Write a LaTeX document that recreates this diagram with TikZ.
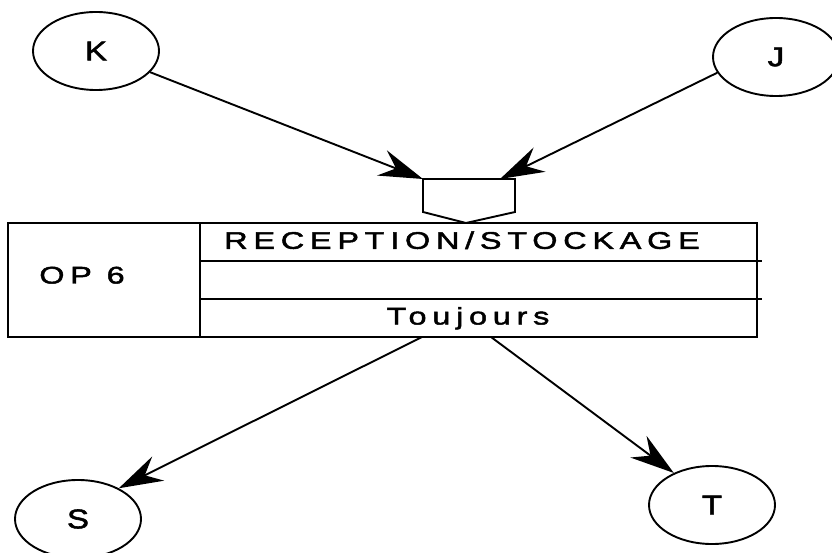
\documentclass[tikz,border=0pt]{standalone}
\usepackage{fontspec}
\setmainfont{Liberation Sans}
\newfontfamily\lblfont{Liberation Sans}[FakeStretch=1.35,LetterSpace=24,FakeBold=2]
\newfontfamily\circfont{Liberation Sans}[FakeStretch=1.22,FakeBold=2]
\usetikzlibrary{shapes.geometric,arrows.meta}
\begin{document}
\begin{tikzpicture}[x=1pt,y=-1pt,
  ent/.style={ellipse,draw,line width=1.9pt,minimum width=126pt,minimum height=78pt,inner sep=0pt,font=\circfont\fontsize{27}{27}\selectfont},
  arr/.style={line width=1.9pt,-{Stealth[length=44pt,width=27pt,inset=15pt]}},
  lbl/.style={inner sep=0pt,anchor=base,font=\lblfont\fontsize{24}{24}\selectfont},
  frame/.style={line width=1.9pt}]
\useasboundingbox (0,0) rectangle (832,553);
% entities
\node[ent] (K) at (96,51) {K};
\node[ent] (J) at (776,57) {J};
\node[ent] (S) at (78,519) {S};
\node[ent] (T) at (712,505) {T};
% operation box
\coordinate (bTL) at (8,223);
\coordinate (bBR) at (757,337);
\draw[frame] (bTL) rectangle (bBR);
\draw[frame] (200,223) -- (200,337);
\draw[frame] (200,261) -- (762,261);
\draw[frame] (200,299) -- (762,299);
\node[lbl] (title) at (462,248.8) {RECEPTION/STOCKAGE};
\node[lbl] (op) at (82,283.5) {OP 6};
\node[lbl] (cond) at (468,324.5) {Toujours};
% synchronisation pentagon
\coordinate (pTL) at (423,179);
\coordinate (pTR) at (515,179);
\coordinate (pR) at (515,212);
\coordinate (pB) at (466,223);
\coordinate (pL) at (423,212);
\draw[frame] (pTL) -- (pTR) -- (pR) -- (pB) -- (pL) -- cycle;
\coordinate (jTip) at (500,179);
\coordinate (sStart) at (422,337);
\coordinate (tStart) at (491,337);
% connectors
\draw[arr] (K) -- (pTL);
\draw[arr] (J.195) -- (jTip);
\draw[arr] (sStart) -- (S.37);
\draw[arr] (tStart) -- (T.140);
\end{tikzpicture}
\end{document}
